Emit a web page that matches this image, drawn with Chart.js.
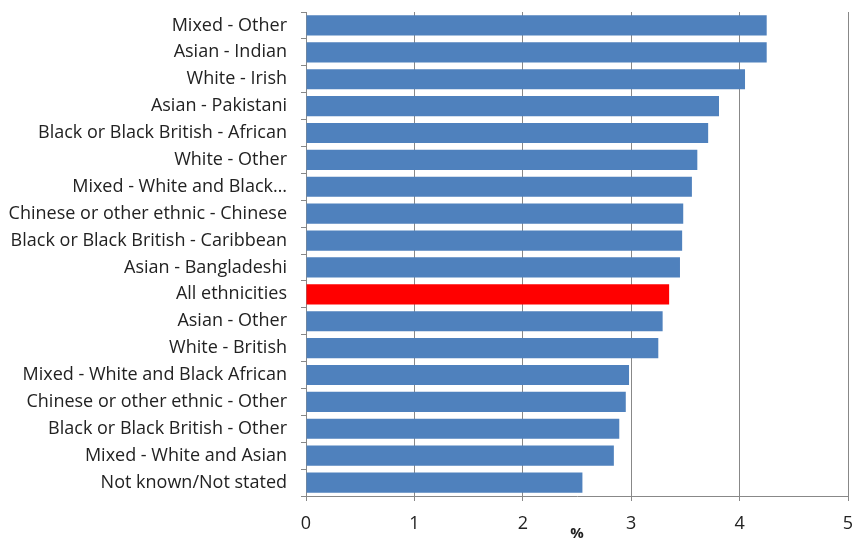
<!DOCTYPE html>
<html>
<head>
<meta charset="utf-8">
<script src="https://cdn.jsdelivr.net/npm/chart.js@4"></script>
<style>
  html, body { margin: 0; padding: 0; background: #fff; }
  #wrap { width: 855px; height: 540px; }
</style>
</head>
<body>
<div id="wrap"><canvas id="BarChart"></canvas></div>
<script>
const categories = [
  'Mixed - Other',
  'Asian - Indian',
  'White - Irish',
  'Asian - Pakistani',
  'Black or Black British - African',
  'White - Other',
  'Mixed - White and Black…',
  'Chinese or other ethnic - Chinese',
  'Black or Black British - Caribbean',
  'Asian - Bangladeshi',
  'All ethnicities',
  'Asian - Other',
  'White - British',
  'Mixed - White and Black African',
  'Chinese or other ethnic - Other',
  'Black or Black British - Other',
  'Mixed - White and Asian',
  'Not known/Not stated'
];
const values = [4.25, 4.25, 4.05, 3.81, 3.71, 3.61, 3.56, 3.48, 3.47, 3.45, 3.35, 3.29, 3.25, 2.98, 2.95, 2.89, 2.84, 2.55];
const xTicks = [0, 1, 2, 3, 4, 5];
const highlight = 'All ethnicities';

const barColors = categories.map(c => c === highlight ? '#FF0000' : '#4F81BD');

const ctx = document.getElementById('BarChart');

new Chart(ctx, {
  type: 'bar',
  data: {
    labels: categories,
    datasets: [{
      data: values,
      backgroundColor: barColors,
      borderWidth: 0,
      categoryPercentage: 1,
      barPercentage: 0.75
    }]
  },
  options: {
    indexAxis: 'y',
    responsive: true,
    maintainAspectRatio: false,
    animation: false,
    layout: { padding: { top: 12, right: 7, bottom: 0, left: 0 } },
    plugins: {
      legend: { display: false },
      tooltip: { enabled: false }
    },
    scales: {
      x: {
        min: xTicks[0],
        max: xTicks[xTicks.length - 1],
        afterBuildTicks: (axis) => { axis.ticks = xTicks.map(v => ({ value: v })); },
        ticks: {
          color: '#222',
          font: { family: 'Open Sans', size: 18 },
          padding: 12
        },
        grid: {
          color: '#888',
          lineWidth: 1,
          tickLength: 5
        },
        border: { color: '#888' },
        title: {
          display: true,
          text: '%',
          color: '#222',
          font: { family: 'Open Sans', size: 15, weight: 'bold' },
          padding: { top: -14, bottom: -3 }
        },
        afterFit: (axis) => {
          axis.height = 44;
          axis.paddingLeft = 0;
          axis.paddingRight = 0;
        }
      },
      y: {
        ticks: {
          color: '#222',
          font: { family: 'Open Sans', size: 18 },
          padding: 14,
          autoSkip: false
        },
        grid: {
          drawOnChartArea: false,
          color: '#888',
          tickLength: 5,
          offset: true
        },
        border: { color: '#888' },
        afterFit: (axis) => {
          axis.width = 306;
          axis.paddingTop = 0;
          axis.paddingBottom = 0;
        }
      }
    }
  }
});
</script>
</body>
</html>
